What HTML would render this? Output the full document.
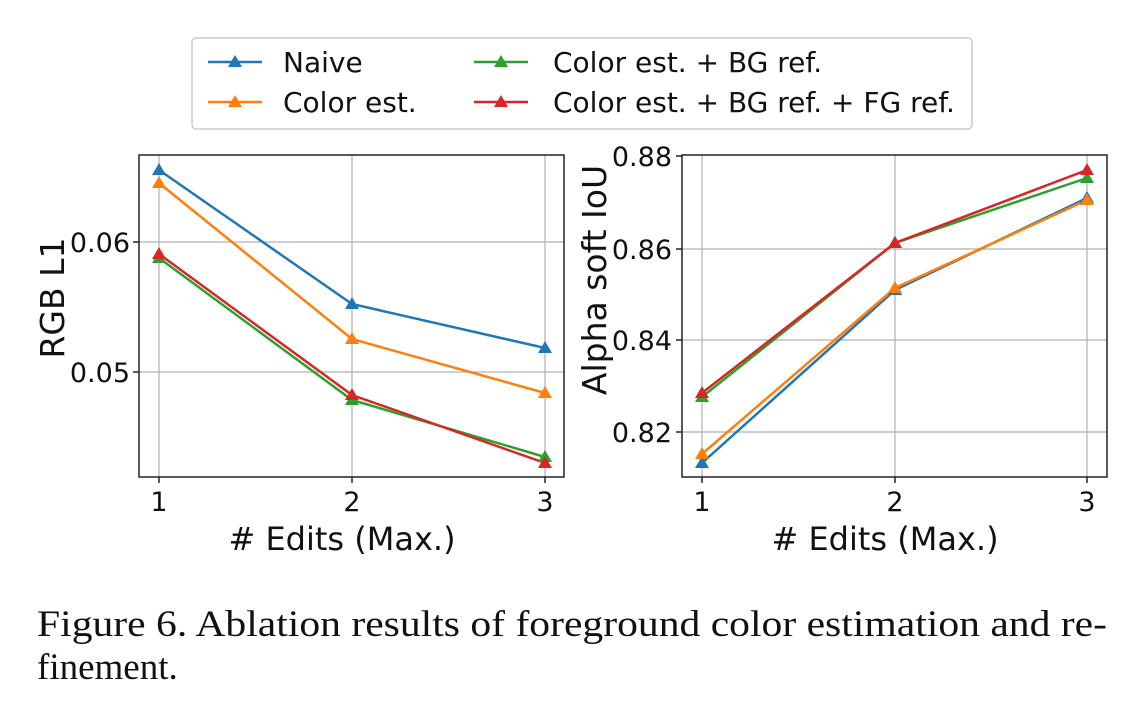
<!DOCTYPE html>
<html><head><style>body{margin:0;background:#fff}</style></head><body>
<svg width="1144" height="710" xmlns="http://www.w3.org/2000/svg" font-family="'DejaVu Sans', sans-serif">
<rect width="1144" height="710" fill="#fff"/>
<!-- legend -->
<rect x="192" y="38" width="780" height="91" rx="4" fill="#fff" stroke="#ccc" stroke-width="1.5"/>
<g stroke-width="2.5">
<line x1="208" y1="62" x2="262" y2="62" stroke="#1f77b4"/><polygon points="235,55 242,67 228,67" fill="#1f77b4"/>
<line x1="208" y1="102" x2="262" y2="102" stroke="#ff7f0e"/><polygon points="235,95 242,107 228,107" fill="#ff7f0e"/>
<line x1="474" y1="62" x2="528" y2="62" stroke="#2ca02c"/><polygon points="501,55 508,67 494,67" fill="#2ca02c"/>
<line x1="474" y1="102" x2="528" y2="102" stroke="#d62728"/><polygon points="501,95 508,107 494,107" fill="#d62728"/>
</g>
<g font-size="28" fill="#111">
<text x="283" y="72">Naive</text><text x="283" y="112">Color est.</text>
<text x="553" y="72">Color est. + BG ref.</text><text x="553" y="112">Color est. + BG ref. + FG ref.</text>
</g>
<!-- left plot -->
<g stroke="#b0b0b0" stroke-width="1.2">
<line x1="159" y1="155" x2="159" y2="477"/><line x1="352" y1="155" x2="352" y2="477"/><line x1="545" y1="155" x2="545" y2="477"/>
<line x1="139" y1="242" x2="564" y2="242"/><line x1="139" y1="372" x2="564" y2="372"/>
</g>
<g fill="none" stroke-width="2.5">
<polyline points="159,258 352,400 545,457" stroke="#2ca02c"/>
<polyline points="159,254 352,395 545,463" stroke="#d62728"/>
<polyline points="159,183 352,339 545,393" stroke="#ff7f0e"/>
<polyline points="159,170 352,304 545,348" stroke="#1f77b4"/>
</g>
<g>
<polygon points="159,251 166,263 152,263" fill="#2ca02c"/><polygon points="352,393 359,405 345,405" fill="#2ca02c"/><polygon points="545,450 552,462 538,462" fill="#2ca02c"/>
<polygon points="159,247 166,259 152,259" fill="#d62728"/><polygon points="352,388 359,400 345,400" fill="#d62728"/><polygon points="545,456 552,468 538,468" fill="#d62728"/>
<polygon points="159,176 166,188 152,188" fill="#ff7f0e"/><polygon points="352,332 359,344 345,344" fill="#ff7f0e"/><polygon points="545,386 552,398 538,398" fill="#ff7f0e"/>
<polygon points="159,163 166,175 152,175" fill="#1f77b4"/><polygon points="352,297 359,309 345,309" fill="#1f77b4"/><polygon points="545,341 552,353 538,353" fill="#1f77b4"/>
</g>
<rect x="139" y="155" width="425" height="322" fill="none" stroke="#222" stroke-width="1.5"/>
<g stroke="#222" stroke-width="1.5">
<line x1="133" y1="242" x2="139" y2="242"/><line x1="133" y1="372" x2="139" y2="372"/>
<line x1="159" y1="477" x2="159" y2="483"/><line x1="352" y1="477" x2="352" y2="483"/><line x1="545" y1="477" x2="545" y2="483"/>
</g>
<g font-size="27" fill="#111">
<text x="130" y="252" text-anchor="end">0.06</text><text x="130" y="382" text-anchor="end">0.05</text>
<text x="159" y="511" text-anchor="middle">1</text><text x="352" y="511" text-anchor="middle">2</text><text x="545" y="511" text-anchor="middle">3</text>
</g>
<text x="342" y="550" font-size="32" text-anchor="middle" fill="#111"># Edits (Max.)</text>
<text transform="translate(64,298) rotate(-90)" font-size="33" text-anchor="middle" fill="#111">RGB L1</text>
<!-- right plot -->
<g stroke="#b0b0b0" stroke-width="1.2">
<line x1="702" y1="155" x2="702" y2="477"/><line x1="895" y1="155" x2="895" y2="477"/><line x1="1087" y1="155" x2="1087" y2="477"/>
<line x1="682" y1="249" x2="1107" y2="249"/><line x1="682" y1="340" x2="1107" y2="340"/><line x1="682" y1="432" x2="1107" y2="432"/>
</g>
<g fill="none" stroke-width="2.5">
<polyline points="702,463 895,290 1087,198" stroke="#1f77b4"/>
<polyline points="702,454 895,288 1087,200" stroke="#ff7f0e"/>
<polyline points="702,397 895,243 1087,178" stroke="#2ca02c"/>
<polyline points="702,393 895,243 1087,170" stroke="#d62728"/>
</g>
<g>
<polygon points="702,456 709,468 695,468" fill="#1f77b4"/><polygon points="895,283 902,295 888,295" fill="#1f77b4"/><polygon points="1087,191 1094,203 1080,203" fill="#1f77b4"/>
<polygon points="702,447 709,459 695,459" fill="#ff7f0e"/><polygon points="895,281 902,293 888,293" fill="#ff7f0e"/><polygon points="1087,193 1094,205 1080,205" fill="#ff7f0e"/>
<polygon points="702,390 709,402 695,402" fill="#2ca02c"/><polygon points="895,236 902,248 888,248" fill="#2ca02c"/><polygon points="1087,171 1094,183 1080,183" fill="#2ca02c"/>
<polygon points="702,386 709,398 695,398" fill="#d62728"/><polygon points="895,236 902,248 888,248" fill="#d62728"/><polygon points="1087,163 1094,175 1080,175" fill="#d62728"/>
</g>
<rect x="682" y="155" width="425" height="322" fill="none" stroke="#222" stroke-width="1.5"/>
<g stroke="#222" stroke-width="1.5">
<line x1="676" y1="156" x2="682" y2="156"/><line x1="676" y1="249" x2="682" y2="249"/><line x1="676" y1="340" x2="682" y2="340"/><line x1="676" y1="432" x2="682" y2="432"/>
<line x1="702" y1="477" x2="702" y2="483"/><line x1="895" y1="477" x2="895" y2="483"/><line x1="1087" y1="477" x2="1087" y2="483"/>
</g>
<g font-size="27" fill="#111">
<text x="672" y="166" text-anchor="end">0.88</text><text x="672" y="259" text-anchor="end">0.86</text><text x="672" y="350" text-anchor="end">0.84</text><text x="672" y="442" text-anchor="end">0.82</text>
<text x="702" y="511" text-anchor="middle">1</text><text x="895" y="511" text-anchor="middle">2</text><text x="1087" y="511" text-anchor="middle">3</text>
</g>
<text x="885" y="550" font-size="32" text-anchor="middle" fill="#111"># Edits (Max.)</text>
<text transform="translate(606,280) rotate(-90)" font-size="33" text-anchor="middle" fill="#111">Alpha soft IoU</text>
<!-- caption -->
<g font-family="'Liberation Serif', serif" font-size="37" fill="#111">
<text x="37" y="636" textLength="1070" lengthAdjust="spacingAndGlyphs">Figure 6.  Ablation results of foreground color estimation and re-</text>
<text x="37" y="679">finement.</text>
</g>
</svg>
</body></html>
